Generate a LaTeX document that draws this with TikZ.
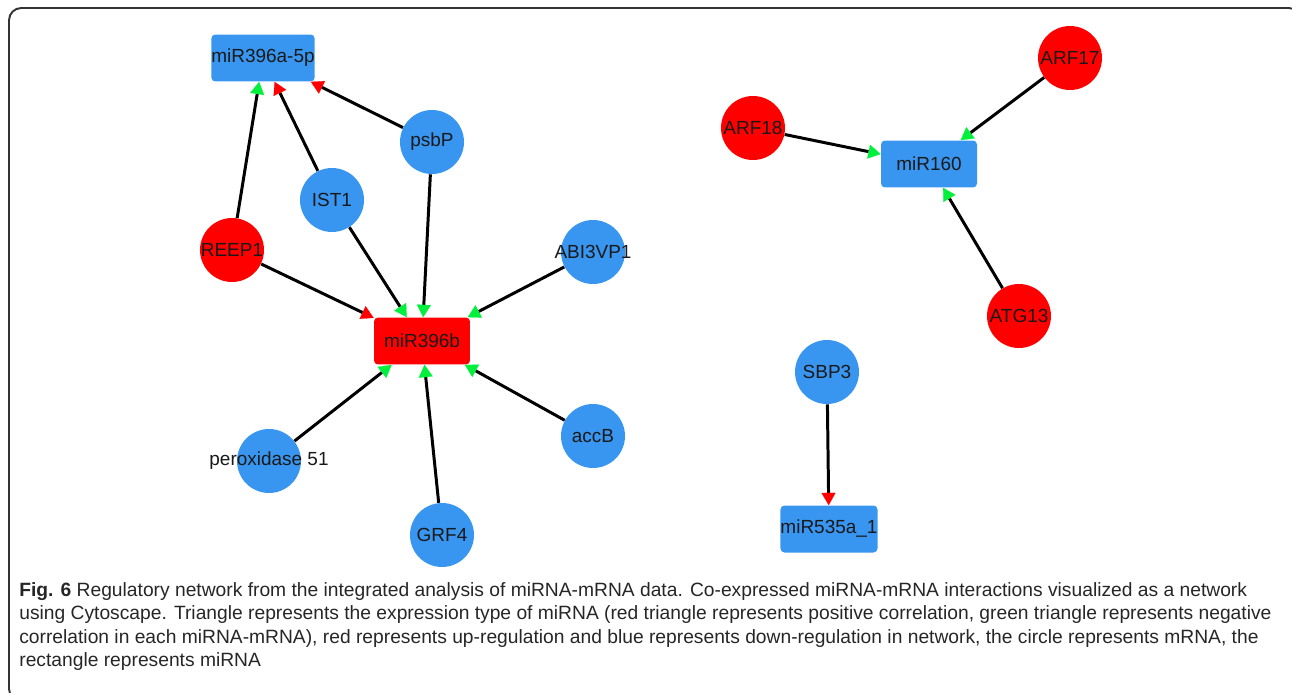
\documentclass[tikz,border=0pt]{standalone}
\usepackage{fontspec}
\setmainfont{Liberation Sans}
\usetikzlibrary{arrows.meta,positioning}
\definecolor{nodeblue}{RGB}{56,150,240}
\definecolor{nodered}{RGB}{255,0,0}
\definecolor{tipgreen}{RGB}{0,240,60}
\tikzstyle{posarrow} = [line width=1.7pt,-{Triangle[width=8pt,length=7pt,line width=0.1pt,color=nodered]}]
\tikzstyle{negarrow} = [line width=1.7pt,-{Triangle[width=8pt,length=7pt,line width=0.1pt,color=tipgreen]}]
% label may run past the circle
\newcommand{\widelbl}[1]{\makebox[0pt][c]{#1}}

\begin{document}
\begin{tikzpicture}[x=0.02cm,y=-0.02cm,
    mrna/.style={circle,minimum size=1.28cm,inner sep=0pt,font=\fontsize{10.8}{12}\selectfont,text=black!90},
    mirna/.style={rectangle,rounded corners=2.3pt,minimum width=1.92cm,minimum height=0.94cm,inner sep=0pt,font=\fontsize{10.8}{12}\selectfont,text=black!90},]
        \useasboundingbox (0,0) rectangle (1292,693);
        \draw[line width=1.1pt,draw=black!80,rounded corners=7pt] (9,8) rectangle (1301,701);

        % miRNA (rectangle), fill = regulation
        \node[mirna,fill=nodeblue] (0) at (263,58) {miR396a-5p};
        \node[mirna,fill=nodered] (1) at (422,341) {miR396b};
        \node[mirna,fill=nodeblue] (2) at (929,164) {miR160};
        \node[mirna,fill=nodeblue] (3) at (829,529) {miR535a\_1};

        % mRNA (circle)
        \node[mrna,fill=nodeblue] (4) at (432,142) {psbP};
        \node[mrna,fill=nodeblue] (5) at (332,200) {IST1};
        \node[mrna,fill=nodered] (6) at (232,250) {\widelbl{REEP1}};
        \node[mrna,fill=nodeblue] (7) at (593,252) {\widelbl{ABI3VP1}};
        \node[mrna,fill=nodeblue] (8) at (269,461) {\widelbl{peroxidase 51}};
        \node[mrna,fill=nodeblue] (9) at (442,535) {GRF4};
        \node[mrna,fill=nodeblue] (10) at (593,436) {accB};
        \node[mrna,fill=nodered] (11) at (1070,58) {\widelbl{ARF17}};
        \node[mrna,fill=nodered] (12) at (753,128) {\widelbl{ARF18}};
        \node[mrna,fill=nodered] (13) at (1019,316) {\widelbl{ATG13}};
        \node[mrna,fill=nodeblue] (14) at (827,372) {SBP3};

        % -> miR396a-5p
        \draw[negarrow] (6) edge (0); % REEP1
        \draw[posarrow] (5) edge (0); % IST1
        \draw[posarrow] (4) edge (0); % psbP

        % -> miR396b
        \draw[posarrow] (6) edge (1); % REEP1
        \draw[negarrow] (5) edge (1); % IST1
        \draw[negarrow] (4) edge (1); % psbP
        \draw[negarrow] (7) edge (1); % ABI3VP1
        \draw[negarrow] (8) edge (1); % peroxidase 51
        \draw[negarrow] (9) edge (1); % GRF4
        \draw[negarrow] (10) edge (1); % accB

        % -> miR160
        \draw[negarrow] (11) edge (2); % ARF17
        \draw[negarrow] (12) edge (2); % ARF18
        \draw[negarrow] (13) edge (2); % ATG13

        % -> miR535a_1
        \draw[posarrow] (14) edge (3); % SBP3

        % caption
        \node[anchor=north west,inner sep=0pt,align=left,text=black!85,
              font=\fontsize{10.95}{13.3}\selectfont] (cap) at (19,582)
        {\textbf{Fig. 6} Regulatory network from the integrated analysis of miRNA-mRNA data. Co-expressed miRNA-mRNA interactions visualized as a network\\
         using Cytoscape. Triangle represents the expression type of miRNA (red triangle represents positive correlation, green triangle represents negative\\
         correlation in each miRNA-mRNA), red represents up-regulation and blue represents down-regulation in network, the circle represents mRNA, the\\
         rectangle represents miRNA};
    \end{tikzpicture}
\end{document}
